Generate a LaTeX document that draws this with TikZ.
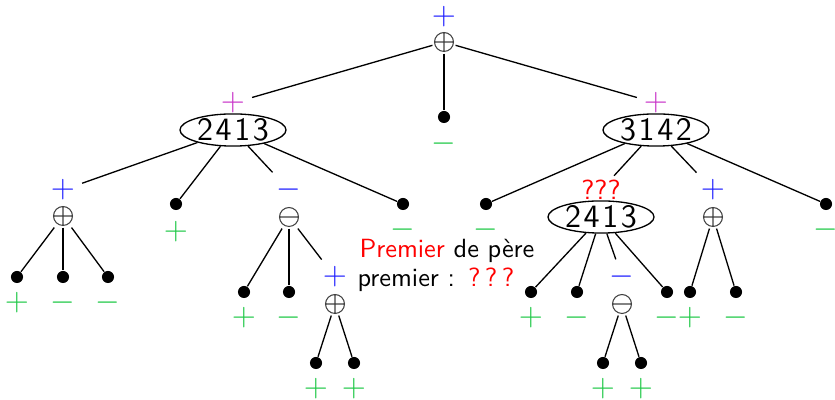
\documentclass[tikz,border=0pt]{standalone}
\usepackage{fontspec}
\usetikzlibrary{shapes.geometric}
\definecolor{mag}{RGB}{200,50,200}
\definecolor{grn}{RGB}{30,200,70}
\definecolor{blu}{RGB}{30,30,255}
\begin{document}
\begin{tikzpicture}[x=0.38pt,y=-0.38pt,font=\sffamily,
  dot/.style={circle,fill=black,inner sep=0pt,minimum size=4.6pt},
  opl/.style={rectangle,inner sep=0pt,minimum size=8.4pt,
    path picture={\draw[black!75,line width=0.4pt] (path picture bounding box.center) circle (3.6pt)
      (path picture bounding box.center) ++(-3.6pt,0) -- ++(7.2pt,0)
      (path picture bounding box.center) ++(0,3.6pt) -- ++(0,-7.2pt);}},
  omin/.style={rectangle,inner sep=0pt,minimum size=8.4pt,
    path picture={\draw[black!75,line width=0.4pt] (path picture bounding box.center) circle (3.6pt)
      (path picture bounding box.center) ++(-3.6pt,0) -- ++(7.2pt,0);}},
  perm/.style={ellipse,draw,line width=0.5pt,minimum width=40.3pt,minimum height=10.6pt,inner sep=0pt,font=\sffamily\fontsize{12.4}{14}\selectfont},
  lab/.style={font=\fontsize{12.5}{14}\selectfont,inner sep=2.5pt},
  edge/.style={line width=0.5pt}]
\useasboundingbox (0,0) rectangle (835,400);
% level 0
\node[opl] (R) at (444,42) {};
\node[lab,text=blu] (Rl) at (444,17) {$+$};
% level 1
\node[perm] (A) at (233,130) {2\kern1pt4\kern1pt1\kern1pt3};
\node[lab,text=mag] (Al) at (233,103) {$+$};
\node[dot] (B) at (444,117) {};
\node[lab,text=grn] (Bl) at (444,144) {$-$};
\node[perm] (C) at (656,130) {3\kern1pt1\kern1pt4\kern1pt2};
\node[lab,text=mag] (Cl) at (656,103) {$+$};
\draw[edge] (R) -- (Al);
\draw[edge] (R) -- (B);
\draw[edge] (R) -- (Cl);
% children of A
\node[opl] (A1) at (63,216) {};
\node[lab,text=blu] (A1l) at (63,190) {$+$};
\node[dot] (A2) at (176,204) {};
\node[lab,text=grn] (A2l) at (176,232) {$+$};
\node[omin] (A3) at (289,217) {};
\node[lab,text=blu] (A3l) at (289,190) {$-$};
\node[dot] (A4) at (403,204) {};
\node[lab,text=grn] (A4l) at (403,230) {$-$};
\draw[edge] (A) -- (A1l);
\draw[edge] (A) -- (A2);
\draw[edge] (A) -- (A3l);
\draw[edge] (A) -- (A4);
% children of A1
\node[dot] (a11) at (17,277) {};
\node[dot] (a12) at (63,277) {};
\node[dot] (a13) at (108,277) {};
\node[lab,text=grn] (a11l) at (17,303) {$+$};
\node[lab,text=grn] (a12l) at (63,303) {$-$};
\node[lab,text=grn] (a13l) at (108,303) {$-$};
\draw[edge] (A1) -- (a11);
\draw[edge] (A1) -- (a12);
\draw[edge] (A1) -- (a13);
% children of A3
\node[dot] (a31) at (244,292) {};
\node[dot] (a32) at (289,292) {};
\node[opl] (a33) at (335,304) {};
\node[lab,text=grn] (a31l) at (244,318) {$+$};
\node[lab,text=grn] (a32l) at (289,318) {$-$};
\node[lab,text=blu] (a33l) at (335,277) {$+$};
\draw[edge] (A3) -- (a31);
\draw[edge] (A3) -- (a32);
\draw[edge] (A3) -- (a33l);
% children of a33
\node[dot] (b1) at (316,363) {};
\node[dot] (b2) at (354,363) {};
\node[lab,text=grn] (b1l) at (316,389) {$+$};
\node[lab,text=grn] (b2l) at (354,389) {$+$};
\draw[edge] (a33) -- (b1);
\draw[edge] (a33) -- (b2);
% children of C
\node[dot] (C1) at (486,204) {};
\node[lab,text=grn] (C1l) at (486,230) {$-$};
\node[perm] (C2) at (601,217) {2\kern1pt4\kern1pt1\kern1pt3};
\node[lab,text=red,inner sep=1.5pt,font=\sffamily\fontsize{10.5}{12}\selectfont] (C2l) at (601,190) {???};
\node[opl] (C3) at (713,217) {};
\node[lab,text=blu] (C3l) at (713,190) {$+$};
\node[dot] (C4) at (826,204) {};
\node[lab,text=grn] (C4l) at (826,230) {$-$};
\draw[edge] (C) -- (C1);
\draw[edge] (C) -- (C2l);
\draw[edge] (C) -- (C3l);
\draw[edge] (C) -- (C4);
% children of C2
\node[dot] (c21) at (531,292) {};
\node[dot] (c22) at (577,292) {};
\node[omin] (c23) at (622,304) {};
\node[dot] (c24) at (667,292) {};
\node[lab,text=grn] (c21l) at (531,318) {$+$};
\node[lab,text=grn] (c22l) at (577,318) {$-$};
\node[lab,text=blu] (c23l) at (622,277) {$-$};
\node[lab,text=grn] (c24l) at (667,318) {$-$};
\draw[edge] (C2) -- (c21);
\draw[edge] (C2) -- (c22);
\draw[edge] (C2) -- (c23l);
\draw[edge] (C2) -- (c24);
% children of c23
\node[dot] (d1) at (603,363) {};
\node[dot] (d2) at (641,363) {};
\node[lab,text=grn] (d1l) at (603,389) {$+$};
\node[lab,text=grn] (d2l) at (641,389) {$+$};
\draw[edge] (c23) -- (d1);
\draw[edge] (c23) -- (d2);
% children of C3
\node[dot] (e1) at (690,292) {};
\node[dot] (e2) at (736,292) {};
\node[lab,text=grn] (e1l) at (690,318) {$+$};
\node[lab,text=grn] (e2l) at (736,318) {$-$};
\draw[edge] (C3) -- (e1);
\draw[edge] (C3) -- (e2);
% note
\node[anchor=base west,inner sep=0pt] (n1) at (359,258) {\textcolor{red}{Premier} de père};
\node[anchor=base west,inner sep=0pt] (n2) at (357,287) {premier :\hspace{5pt}\textcolor{red}{?\,?\,?}};
\end{tikzpicture}
\end{document}
